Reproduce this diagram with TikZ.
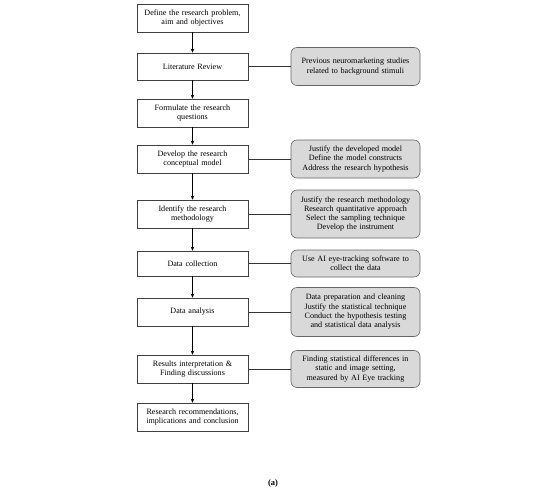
\documentclass[tikz,border=0pt]{standalone}
\usepackage{fontspec}
\setmainfont{Liberation Serif}
\usetikzlibrary{arrows.meta}
\begin{document}
\begin{tikzpicture}[x=1pt,y=-1pt,
  stepbox/.style={draw=black!75, line width=0.6pt, fill=white, minimum width=111pt, inner sep=1pt,
    align=center, font=\fontsize{8.1}{9.3}\selectfont, text width=109pt},
  notebox/.style={draw=black!60, line width=0.6pt, fill=black!15, rounded corners=6pt, minimum width=129pt,
    inner sep=1pt, align=center, font=\fontsize{8.1}{9.3}\selectfont, text width=127pt},
  flow/.style={draw=black, line width=0.7pt, -{Stealth[length=4pt,width=3.5pt]}},
  link/.style={draw=black!80, line width=0.7pt}]
\useasboundingbox (0,0) rectangle (550,491);
\node[stepbox, minimum height=28pt] (b1) at (192.5,18) {Define the research problem,\\aim and objectives};
\node[stepbox, minimum height=27pt] (b2) at (192.5,66.5) {Literature Review};
\node[stepbox, minimum height=28pt] (b3) at (192.5,113) {Formulate the research\\questions};
\node[stepbox, minimum height=28pt] (b4) at (192.5,159) {Develop the research\\conceptual model};
\node[stepbox, minimum height=28pt] (b5) at (192.5,214) {Identify the research\\methodology};
\node[stepbox, minimum height=25pt] (b6) at (192.5,263.5) {Data collection};
\node[stepbox, minimum height=28pt] (b7) at (192.5,312) {Data analysis};
\node[stepbox, minimum height=28pt] (b8) at (192.5,369) {Results interpretation \&\\Finding discussions};
\node[stepbox, minimum height=28pt] (b9) at (192.5,417) {Research recommendations,\\implications and conclusion};

\node[notebox, minimum height=38pt] (r1) at (355.5,66.5) {Previous neuromarketing studies\\related to background stimuli};
\node[notebox, minimum height=38pt] (r2) at (355.5,159) {Justify the developed model\\Define the model constructs\\Address the research hypothesis};
\node[notebox, minimum height=48pt] (r3) at (355.5,214) {Justify the research methodology\\Research quantitative approach\\Select the sampling technique\\Develop the instrument};
\node[notebox, minimum height=27pt] (r4) at (355.5,263.5) {Use AI eye-tracking software to\\collect the data};
\node[notebox, minimum height=49pt] (r5) at (355.5,312) {Data preparation and cleaning\\Justify the statistical technique\\Conduct the hypothesis testing\\and statistical data analysis};
\node[notebox, minimum height=37pt] (r6) at (355.5,369) {Finding statistical differences in\\static and image setting,\\measured by AI Eye tracking};

\foreach \a/\b in {b1/b2,b2/b3,b3/b4,b4/b5,b5/b6,b6/b7,b7/b8,b8/b9}
  \draw[flow] (\a) -- (\b);
\foreach \a/\b in {b2/r1,b4/r2,b5/r3,b6/r4,b7/r5,b8/r6}
  \draw[link] (\a) -- (\b);

\node[font=\bfseries\fontsize{8.5}{9}\selectfont] (cap) at (273,483) {(a)};
\end{tikzpicture}
\end{document}
